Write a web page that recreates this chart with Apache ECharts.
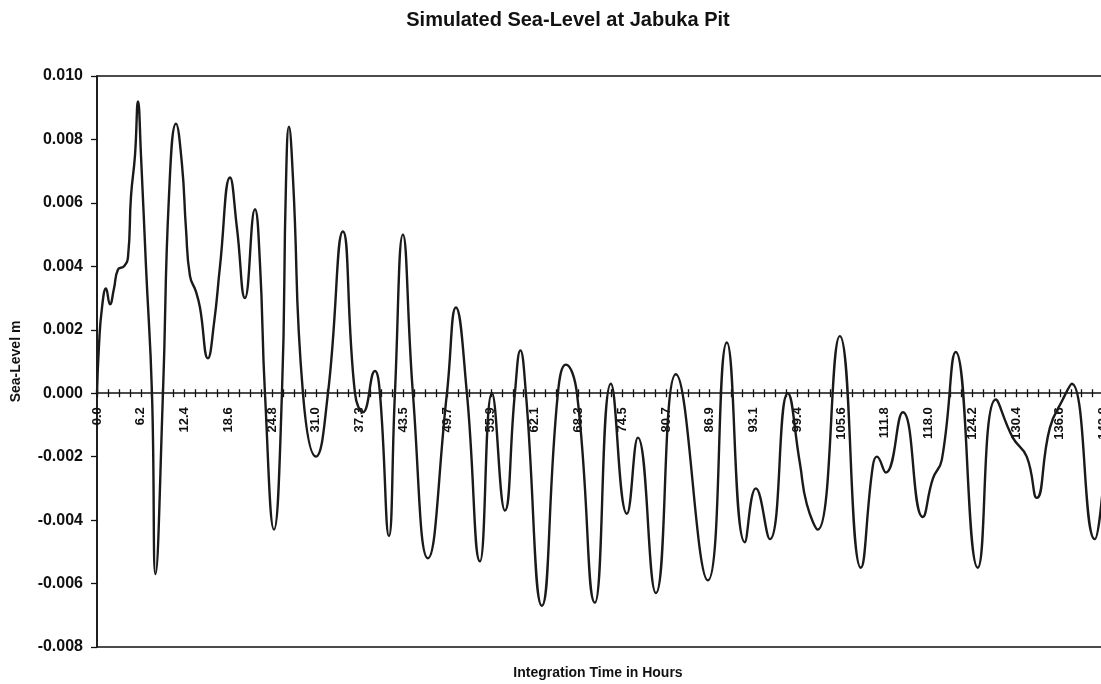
<!DOCTYPE html>
<html>
<head>
<meta charset="utf-8">
<script src="https://cdn.jsdelivr.net/npm/echarts@6/dist/echarts.min.js"></script>
<style>
  html, body { margin: 0; padding: 0; background: #fff; overflow: hidden; }
  #chart { width: 1101px; height: 684px; }
</style>
</head>
<body>
<div id="chart"></div>
<script>
var chartTitle = 'Simulated Sea-Level at Jabuka Pit';
var xAxisTitle = 'Integration Time in Hours';
var yAxisTitle = 'Sea-Level m';

// Integration time (hours)
var hours = [
  0.00, 0.28, 0.71, 1.28, 1.84, 2.41, 2.98, 3.83, 4.40, 4.82, 5.39, 5.82, 6.24, 6.95, 7.80, 8.30,
  9.36, 10.21, 11.21, 12.06, 12.62, 13.19, 14.04, 14.61, 15.74, 16.60, 17.45, 18.87, 19.86, 20.99,
  22.41, 23.12, 23.83, 25.11, 26.24, 26.81, 27.23, 27.80, 29.22, 31.06, 32.77, 34.89, 36.60, 37.73,
  39.43, 40.14, 41.42, 42.27, 43.40, 44.82, 46.95, 49.65, 50.92, 52.48, 54.33, 56.03, 57.87, 59.29,
  60.07, 60.85, 63.12, 65.39, 66.52, 68.09, 70.64, 72.91, 75.18, 76.74, 79.29, 82.13, 86.67, 89.36,
  91.91, 93.48, 95.46, 98.01, 99.72, 100.71, 102.27, 105.39, 108.37, 110.07, 110.64, 111.91, 114.33,
  117.16, 118.58, 119.86, 121.84, 124.96, 127.52, 129.93, 131.91, 133.33, 135.18, 137.02, 138.30,
  141.56, 142.70
];

// Simulated sea level (m)
var seaLevel = [
  0.0000, 0.0015, 0.0027, 0.0033, 0.0028, 0.0033, 0.0039, 0.0040, 0.0043, 0.0062, 0.0075, 0.0092, 0.0075, 0.0040, 0.0000, -0.0057,
  0.0000, 0.0062, 0.0085, 0.0072, 0.0052, 0.0037, 0.0032, 0.0027, 0.0011, 0.0022, 0.0040, 0.0068, 0.0052, 0.0030,
  0.0058, 0.0041, 0.0000, -0.0043, 0.0000, 0.0066, 0.0084, 0.0068, 0.0000, -0.0020, 0.0000, 0.0051, 0.0000, -0.0006,
  0.0007, 0.0000, -0.0045, 0.0000, 0.0050, 0.0000, -0.0052, 0.0000, 0.0027, 0.0000, -0.0053, 0.0000, -0.0037, 0.0000,
  0.00135, 0.0000, -0.0067, 0.0000, 0.0009, 0.0000, -0.0066, 0.0003, -0.0038, -0.0014, -0.0063, 0.0006, -0.0059, 0.0016,
  -0.0047, -0.0030, -0.0046, 0.0000, -0.0022, -0.0035, -0.0043, 0.0018, -0.0055, -0.0023, -0.0020, -0.0025, -0.0006,
  -0.0039, -0.0027, -0.0021, 0.0013, -0.0055, -0.0002, -0.0014, -0.0020, -0.0033, -0.0011, -0.0002, 0.0003,
  -0.0046, -0.0030
];

// Axis settings
var yMin = -0.008, yMax = 0.010, yStep = 0.002;
var xMin = 0, xMax = 145, xStep = 6.2095;

var points = hours.map(function (h, i) { return [h, seaLevel[i]]; });

var fontFam = 'Arial, "Liberation Sans", sans-serif';
var chart = echarts.init(document.getElementById('chart'), null, { renderer: 'canvas' });

var tickStyle = { color: '#111', width: 1.3 };

// grid geometry
var gridTop = 76, gridHeight = 571;
// offset of the time axis from the grid bottom up to the zero line
var zeroOffset = -(gridHeight * (0 - yMin) / (yMax - yMin));

chart.setOption({
  animation: false,
  backgroundColor: '#ffffff',
  title: [
    { text: chartTitle, left: 563, top: 5, textAlign: 'center',
      textStyle: { fontFamily: fontFam, fontSize: 20, fontWeight: 'bold', color: '#111' } },
    { text: xAxisTitle, left: 593, top: 661, textAlign: 'center',
      textStyle: { fontFamily: fontFam, fontSize: 14, fontWeight: 'bold', color: '#111' } }
  ],
  grid: {
    left: 97, top: gridTop, width: 1022, height: gridHeight,
    outerBoundsMode: 'none',
    show: true, borderColor: '#111', borderWidth: 1.5, backgroundColor: 'transparent',
    containLabel: false
  },
  xAxis: [
    {
      type: 'value', min: xMin, max: xMax, interval: xStep, position: 'bottom',
      offset: zeroOffset,
      splitLine: { show: false },
      axisLine: { onZero: false, lineStyle: { color: '#111', width: 1.5 } },
      axisTick: { show: true, length: 4, lineStyle: tickStyle },
      minorTick: { show: true, splitNumber: 4, length: 4, lineStyle: tickStyle },
      axisLabel: {
        rotate: 90, margin: 14, showMaxLabel: false, hideOverlap: false,
        fontFamily: fontFam, fontSize: 13, fontWeight: 'bold', color: '#111',
        formatter: function (v) { return v.toFixed(1); }
      }
    },
    {
      type: 'value', min: xMin, max: xMax, interval: xStep, position: 'bottom',
      offset: zeroOffset,
      splitLine: { show: false },
      axisLine: { show: false, onZero: false },
      axisTick: { show: true, inside: true, length: 4, lineStyle: tickStyle },
      minorTick: { show: true, splitNumber: 4, length: 4, lineStyle: tickStyle },
      axisLabel: { show: false }
    }
  ],
  yAxis: {
    type: 'value', min: yMin, max: yMax, interval: yStep, position: 'left',
    name: yAxisTitle, nameLocation: 'middle', nameGap: 74, nameRotate: 90,
    nameTextStyle: { fontFamily: fontFam, fontSize: 14, fontWeight: 'bold', color: '#111' },
    splitLine: { show: false },
    axisLine: { show: true, onZero: false, lineStyle: { color: '#111', width: 1.5 } },
    axisTick: { show: true, length: 6, lineStyle: tickStyle },
    axisLabel: {
      margin: 14, fontFamily: fontFam, fontSize: 16, fontWeight: 'bold', color: '#111',
      formatter: function (v) { return v.toFixed(3); }
    }
  },
  series: [{
    type: 'line',
    xAxisIndex: 0,
    yAxisIndex: 0,
    data: points,
    smooth: 0.5,
    showSymbol: false,
    clip: true,
    lineStyle: { color: '#1a1a1a', width: 2.4 }
  }]
});
</script>
</body>
</html>
